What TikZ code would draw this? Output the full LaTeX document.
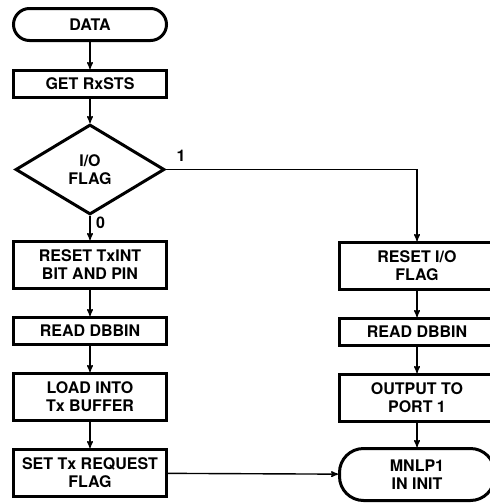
\documentclass[tikz,border=0pt]{standalone}
\usepackage{fontspec}
\setmainfont{TeX Gyre Heros}
\usetikzlibrary{shapes.geometric, positioning, arrows}
\tikzset{
	>=stealth',
	every node/.style={font=\bfseries\fontsize{16}{18}\selectfont},
	box/.style={draw, line width=3pt, minimum width=153pt, minimum height=27pt, inner ysep=2pt, align=center},
	tall/.style={box, minimum height=47pt},
	term/.style={box, rounded corners=16pt},
	decision/.style={draw, diamond, aspect=1.9, line width=3pt, minimum width=149pt, minimum height=90pt, inner sep=0pt, align=center},
	flow/.style={->, line width=1.4pt}}

\begin{document}
\begin{tikzpicture}[x=1pt, y=1pt]
		\useasboundingbox (0,0) rectangle (490,-504);
		
		%Left
		\node[term, minimum height=32pt] (data) at (90,-24.5) {DATA};
		\node[box, below=27pt of data] (rxsts) {GET RxSTS};
		\node[decision, below=24pt of rxsts] (ioflag) {I/O\\FLAG};
		\node[tall, below=24pt of ioflag] (rsttx) {RESET TxINT\\BIT AND PIN};
		\node[box, below=26pt of rsttx] (rddbb) {READ DBBIN};
		\node[tall, below=26pt of rddbb] (ldbuf) {LOAD INTO\\Tx BUFFER};
		\node[tall, below=26pt of ldbuf] (setreq) {SET Tx REQUEST\\FLAG};
		
		%Right
		\node[tall, minimum width=155pt] (rstio) at (417,-266) {RESET I/O\\FLAG};
		\node[box, minimum width=155pt, below=26pt of rstio] (rddbbr) {READ DBBIN};
		\node[tall, minimum width=155pt, below=26pt of rddbbr] (outp) {OUTPUT TO\\PORT 1};
		\node[term, minimum width=155pt, minimum height=52pt, rounded corners=24pt, below=24pt of outp] (mnlp) {MNLP1\\IN INIT};
		
		\draw[flow]
		(data) edge (rxsts)
		(rxsts) edge (ioflag)
		(ioflag) edge node[right=2pt, pos=0.3]{0} (rsttx)
		(rsttx) edge (rddbb)
		(rddbb) edge (ldbuf)
		(ldbuf) edge (setreq)
		(setreq) edge (mnlp)
		
		(rstio) edge (rddbbr)
		(rddbbr) edge (outp)
		(outp) edge (mnlp)
		;
		\draw[flow] (ioflag.east) -| node[above=4pt, pos=0.03]{1} (rstio);
	\end{tikzpicture}
\end{document}
